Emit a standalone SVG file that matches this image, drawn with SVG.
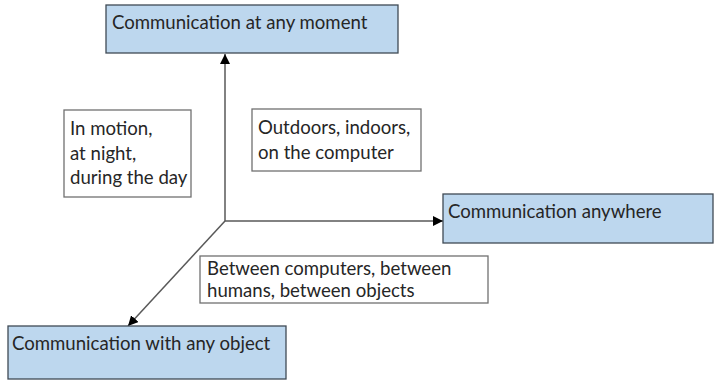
<svg xmlns="http://www.w3.org/2000/svg" width="714" height="380" viewBox="0 0 714 380">
<style>
.blue{fill:#BDD7EE;stroke:#3f4a55;stroke-width:1.3}
.note{fill:#ffffff;stroke:#707070;stroke-width:1.3}
text{font-family:Lato,"Open Sans",sans-serif;font-size:18.6px;fill:#262626}
.ax{stroke:#595959;stroke-width:1.5;fill:none}
</style>
<defs>
<marker id="ah" viewBox="0 0 10 10" refX="10" refY="5" markerWidth="10" markerHeight="10" markerUnits="userSpaceOnUse" orient="auto">
<path d="M0,0 L10,5 L0,10 z" fill="#000"/>
</marker>
</defs>
<rect width="714" height="380" fill="#fff"/>
<g id="connectors">
<line class="ax" x1="225" y1="221" x2="225" y2="54" marker-end="url(#ah)"/>
<line class="ax" x1="225" y1="221" x2="443" y2="221" marker-end="url(#ah)"/>
<line class="ax" x1="225" y1="221" x2="128" y2="326" marker-end="url(#ah)"/>
</g>
<g id="moment">
<rect class="blue" x="106" y="5" width="292" height="48"/>
<text x="112" y="29">Communication at any moment</text>
</g>
<g id="anywhere">
<rect class="blue" x="443" y="194" width="270" height="49"/>
<text x="448" y="218">Communication anywhere</text>
</g>
<g id="object">
<rect class="blue" x="8" y="326" width="278" height="53"/>
<text x="12" y="350">Communication with any object</text>
</g>
<g id="note-time">
<rect class="note" x="64" y="110" width="127" height="87"/>
<text x="70" y="135">In motion,</text>
<text x="70" y="160">at night,</text>
<text x="70" y="184">during the day</text>
</g>
<g id="note-place">
<rect class="note" x="252" y="109" width="169" height="62"/>
<text x="258" y="134">Outdoors, indoors,</text>
<text x="258" y="159">on the computer</text>
</g>
<g id="note-object">
<rect class="note" x="200" y="256" width="288" height="47"/>
<text x="207" y="275">Between computers, between</text>
<text x="207" y="297">humans, between objects</text>
</g>
</svg>
